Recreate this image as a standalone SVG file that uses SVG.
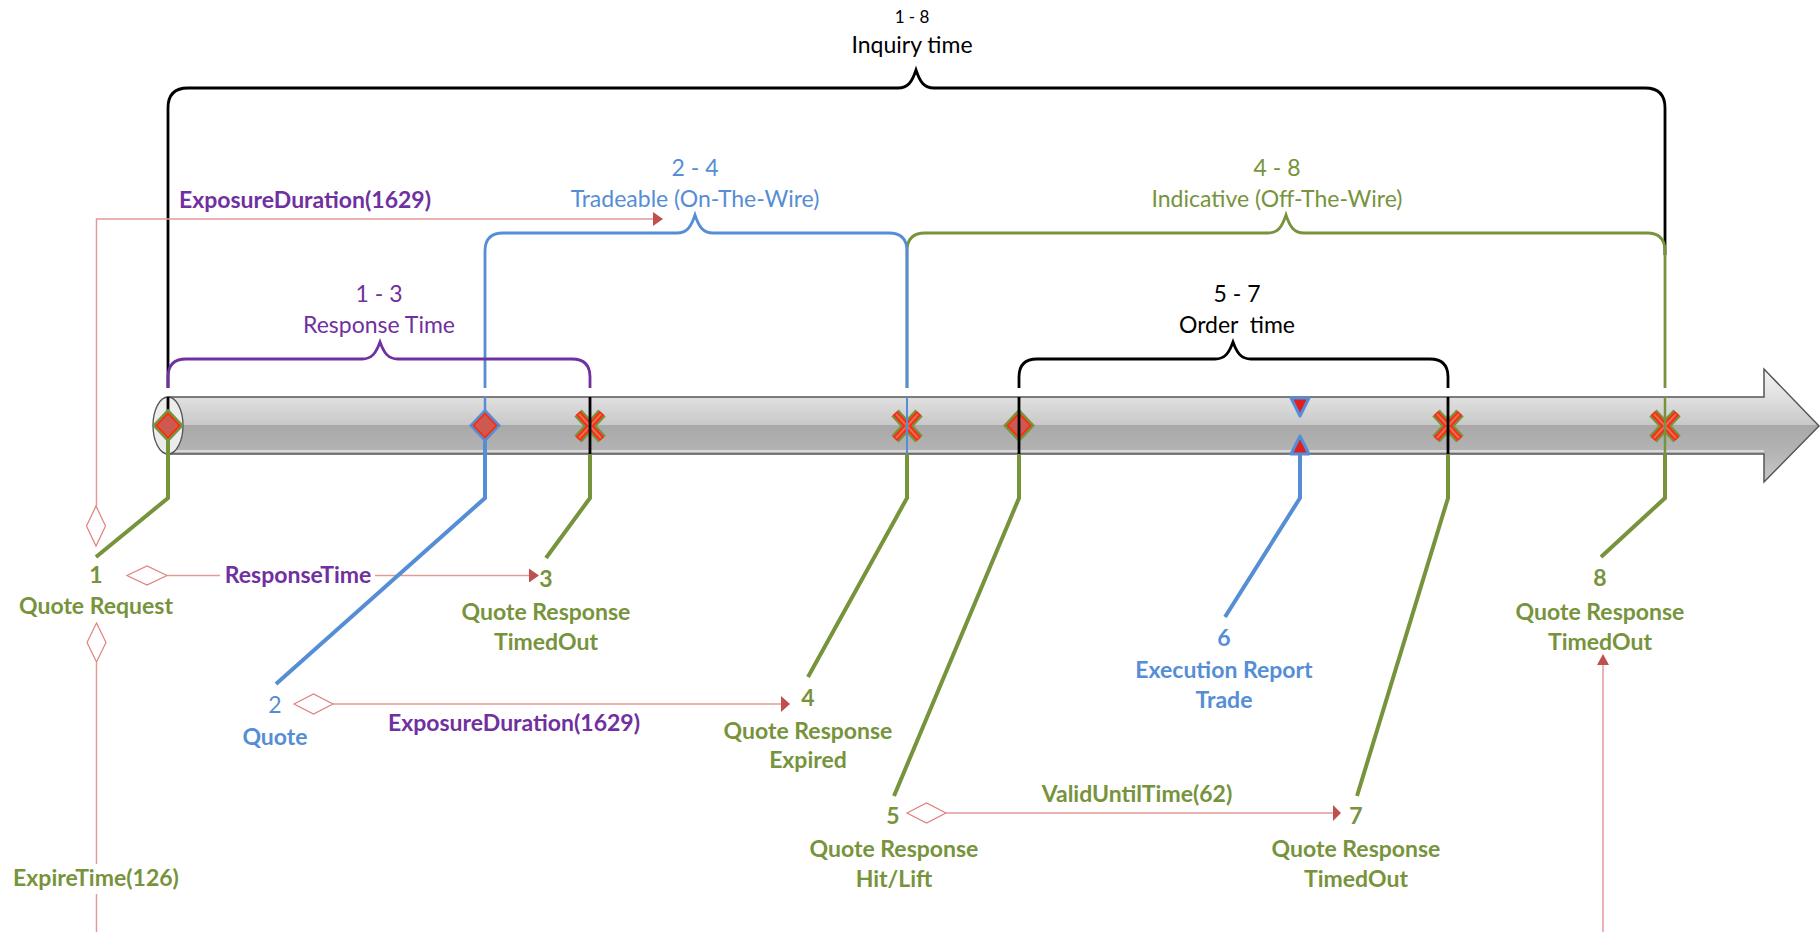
<svg xmlns="http://www.w3.org/2000/svg" width="1820" height="932" viewBox="0 0 1820 932">
<style>
text{font-family:Lato,"Liberation Sans",sans-serif;font-size:23px;text-anchor:middle}
.b{font-weight:bold}
.g{fill:#77933c}.u{fill:#558ed5}.p{fill:#7030a0}.k{fill:#000}
.sm{font-size:17px}
.br{fill:none;stroke-width:2.8}
.lead{fill:none;stroke-width:4;stroke-linejoin:miter}
.con{fill:none;stroke:#e29a98;stroke-width:1.5}
.dia{fill:#fff;stroke:#e0807c;stroke-width:1.2}
.ah{fill:#c0504d}
.xg{stroke:#77933c;stroke-width:10}
.xr{stroke:#ff2a10;stroke-width:6}
.xc{stroke:#e0705a;stroke-width:2}
</style>
<defs>
<linearGradient id="barg" gradientUnits="userSpaceOnUse" x1="0" y1="369" x2="0" y2="482">
<stop offset="0" stop-color="#f4f4f4"/>
<stop offset="0.25" stop-color="#e0e0e0"/>
<stop offset="0.5" stop-color="#c8c8c8"/>
<stop offset="0.5" stop-color="#a9a9a9"/>
<stop offset="0.74" stop-color="#b4b4b4"/>
<stop offset="1" stop-color="#c8c8c8"/>
</linearGradient>
<g id="xm">
<path class="xg" d="M-12,-13 L12,13 M-12,13 L12,-13"/>
<path class="xr" d="M-12,-13 L12,13 M-12,13 L12,-13"/>
<path class="xc" d="M-11,-12 L11,12 M-11,12 L11,-12"/>
</g>
<g id="dg">
<polygon points="0,-17 16,0 0,17 -16,0" fill="#77933c"/>
<polygon points="0,-12 11.5,0 0,12 -11.5,0" fill="#cc5a50" stroke="#ff2a10" stroke-width="1.8"/>
</g>
<g id="db">
<polygon points="0,-17 16,0 0,17 -16,0" fill="#558ed5"/>
<polygon points="0,-12 11.5,0 0,12 -11.5,0" fill="#cc5a50" stroke="#ff2a10" stroke-width="1.8"/>
</g>
</defs>

<g id="timeline">
<path d="M168,397 H1764 V369 L1819,426 L1764,482 V454 H168 Z" fill="url(#barg)" stroke="#555" stroke-width="1.5"/>
<line x1="170" y1="451" x2="1764" y2="451" stroke="#e6e6e6" stroke-width="1.5"/>
<ellipse cx="168" cy="425.5" rx="15" ry="28.5" fill="#ececec" stroke="#555" stroke-width="1.3"/>
</g>

<g id="brackets">
<g id="bracket-inquiry">
<path class="br" stroke="#000" d="M168,388 V108 Q168,88 188,88 H898 C908,88 912,82 916,70 C920,82 924,88 934,88 H1645 Q1665,88 1665,108 V255"/>
<text class="k sm" x="912" y="23">1 - 8</text>
<text class="k" x="912" y="53">Inquiry time</text>
</g>
<g id="bracket-indicative">
<path class="br" stroke="#77933c" d="M907,388 V251 Q907,233 925,233 H1268 C1278,233 1282,227 1286,215 C1290,227 1294,233 1304,233 H1647 Q1665,233 1665,251 V388"/>
<text class="g" x="1277" y="176">4 - 8</text>
<text class="g" x="1277" y="207">Indicative (Off-The-Wire)</text>
</g>
<g id="bracket-tradeable">
<path class="br" stroke="#558ed5" d="M485,388 V251 Q485,233 503,233 H677 C687,233 691,227 695,215 C699,227 703,233 713,233 H889 Q907,233 907,251 V388"/>
<text class="u" x="695" y="176">2 - 4</text>
<text class="u" x="695" y="207">Tradeable (On-The-Wire)</text>
</g>
<g id="bracket-response">
<path class="br" stroke="#7030a0" d="M168,388 V377 Q168,359 186,359 H362 C372,359 376,353 380,342 C384,353 388,359 398,359 H572 Q590,359 590,377 V388"/>
<text class="p" x="379" y="302">1 - 3</text>
<text class="p" x="379" y="333">Response Time</text>
</g>
<g id="bracket-order">
<path class="br" stroke="#000" d="M1019,388 V377 Q1019,359 1037,359 H1215 C1225,359 1229,353 1233,342 C1237,353 1241,359 1251,359 H1430 Q1448,359 1448,377 V388"/>
<text class="k" x="1237" y="302">5 - 7</text>
<text class="k" x="1237" y="333" xml:space="preserve">Order  time</text>
</g>
</g>

<g id="connectors">
<g id="conn-exposure-top">
<polygon class="dia" points="96,506 105.5,526 96,546 86.5,526"/>
<path class="con" d="M96.5,506 V219 H654"/>
<polygon class="ah" points="653,212 663,219 653,226"/>
<text class="p b" x="305" y="208">ExposureDuration(1629)</text>
</g>
<g id="conn-expire">
<polygon class="dia" points="96.5,623 106,642.5 96.5,662 87,642.5"/>
<path class="con" d="M96.5,662 V960 H1603 V662"/>
<polygon class="ah" points="1597,665 1603,654 1609,665"/>
<rect x="14" y="864" width="166" height="30" fill="#fff"/>
<text class="g b" x="96" y="886">ExpireTime(126)</text>
</g>
<g id="conn-response">
<polygon class="dia" points="127,575.5 147,566 167,575.5 147,585"/>
<path class="con" d="M167,575.5 H530"/>
<polygon class="ah" points="529,568.5 539,575.5 529,582.5"/>
<rect x="220" y="562" width="155" height="30" fill="#fff"/>
<text class="p b" x="298" y="583">ResponseTime</text>
</g>
<g id="conn-exposure-low">
<polygon class="dia" points="294,704 313.5,694 333,704 313.5,714"/>
<path class="con" d="M333,704 H782"/>
<polygon class="ah" points="781,696 790,704 781,712"/>
<text class="p b" x="514" y="731">ExposureDuration(1629)</text>
</g>
<g id="conn-valid">
<polygon class="dia" points="907,813 926.5,803 946,813 926.5,823"/>
<path class="con" d="M946,813 H1334"/>
<polygon class="ah" points="1333,805 1341,813 1333,821"/>
<text class="g b" x="1137" y="802">ValidUntilTime(62)</text>
</g>
</g>

<g id="event-1">
<line x1="168" y1="397" x2="168" y2="412" stroke="#000" stroke-width="2.8"/>
<use href="#dg" x="168" y="425.5"/>
<path class="lead" stroke="#77933c" d="M168,441 V498 L96,557"/>
<text class="g b" x="96" y="583">1</text>
<text class="g b" x="96" y="614">Quote Request</text>
</g>
<g id="event-2">
<line x1="485" y1="397" x2="485" y2="410" stroke="#558ed5" stroke-width="2.5"/>
<use href="#db" x="485" y="425.5"/>
<path class="lead" stroke="#558ed5" stroke-width="3" d="M485,441 V498 L276,684"/>
<text class="u" x="275" y="713">2</text>
<text class="u b" x="275" y="745">Quote</text>
</g>
<g id="event-3">
<use href="#xm" x="590" y="426"/>
<line x1="590" y1="397" x2="590" y2="454" stroke="#000" stroke-width="2.8"/>
<path class="lead" stroke="#77933c" d="M590,454 V498 L546,558"/>
<text class="g b" x="546" y="587">3</text>
<text class="g b" x="546" y="620">Quote Response</text>
<text class="g b" x="546" y="650">TimedOut</text>
</g>
<g id="event-4">
<use href="#xm" x="907" y="426"/>
<line x1="907" y1="397" x2="907" y2="454" stroke="#558ed5" stroke-width="2"/>
<path class="lead" stroke="#77933c" d="M907,454 V498 L808,677"/>
<text class="g b" x="808" y="706">4</text>
<text class="g b" x="808" y="739">Quote Response</text>
<text class="g b" x="808" y="768">Expired</text>
</g>
<g id="event-5">
<use href="#dg" x="1019" y="425.5"/>
<line x1="1019" y1="397" x2="1019" y2="454" stroke="#000" stroke-width="2.8"/>
<path class="lead" stroke="#77933c" d="M1019,454 V498 L894,796"/>
<text class="g b" x="893" y="824">5</text>
<text class="g b" x="894" y="857">Quote Response</text>
<text class="g b" x="894" y="887">Hit/Lift</text>
</g>
<g id="event-6">
<polygon points="1291,398 1309,398 1300,416" fill="#e02020" stroke="#558ed5" stroke-width="3" stroke-linejoin="round"/>
<polygon points="1300,436 1309,454 1291,454" fill="#e02020" stroke="#558ed5" stroke-width="3" stroke-linejoin="round"/>
<path class="lead" stroke="#558ed5" stroke-width="4" d="M1300,455 V498 L1225,617"/>
<text class="u b" x="1224" y="646">6</text>
<text class="u b" x="1224" y="678">Execution Report</text>
<text class="u b" x="1224" y="708">Trade</text>
</g>
<g id="event-7">
<use href="#xm" x="1448" y="426"/>
<line x1="1448" y1="397" x2="1448" y2="454" stroke="#000" stroke-width="2.8"/>
<path class="lead" stroke="#77933c" d="M1448,454 V498 L1357,796"/>
<text class="g b" x="1356" y="824">7</text>
<text class="g b" x="1356" y="857">Quote Response</text>
<text class="g b" x="1356" y="887">TimedOut</text>
</g>
<g id="event-8">
<use href="#xm" x="1665" y="426"/>
<line x1="1665" y1="397" x2="1665" y2="454" stroke="#77933c" stroke-width="2.5"/>
<path class="lead" stroke="#77933c" d="M1665,454 V498 L1601,557"/>
<text class="g b" x="1600" y="586">8</text>
<text class="g b" x="1600" y="620">Quote Response</text>
<text class="g b" x="1600" y="650">TimedOut</text>
</g>
</svg>
